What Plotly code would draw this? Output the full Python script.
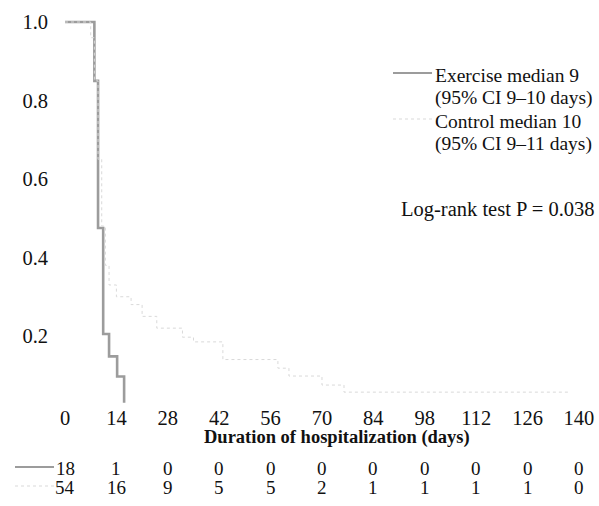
import plotly.graph_objects as go

# ---- data ----
ex_days = [0, 8, 9, 10.4, 12, 14.2, 16.1]
ex_surv = [1.0, 0.85, 0.475, 0.205, 0.148, 0.097, 0.045]
ex_end = 16.1

ct_days = [0, 7, 8, 9, 10, 11, 12, 14, 18, 21, 25, 32, 35, 43, 58, 61, 70, 76]
ct_surv = [1.0, 0.96, 0.85, 0.65, 0.48, 0.38, 0.33, 0.30, 0.28, 0.25, 0.22,
           0.197, 0.185, 0.14, 0.118, 0.098, 0.075, 0.057]
ct_end = 137

tick_days = [0, 14, 28, 42, 56, 70, 84, 98, 112, 126, 140]
y_ticks = [0.2, 0.4, 0.6, 0.8, 1.0]
y_tick_text = ["0.2", "0.4", "0.6", "0.8", "1.0"]
risk_ex = [18, 1, 0, 0, 0, 0, 0, 0, 0, 0, 0]
risk_ct = [54, 16, 9, 5, 5, 2, 1, 1, 1, 1, 0]

legend_lines = ["Exercise median 9", "(95% CI 9–10 days)",
                "Control median 10", "(95% CI 9–11 days)"]
logrank = "Log-rank test P = 0.038"
x_title = "Duration of hospitalization (days)"

FONT = "Liberation Serif, Times New Roman, serif"
TXT = "#111111"
EX_COL = "#9c9c9c"
CT_COL = "#d9d9d9"
FS = 20.5
LFS = 19.5

# paper-coordinate helpers for the fixed 599x506 canvas
L, R, T, B = 49, 5, 3, 103
PW, PH = 599 - L - R, 506 - T - B


def px_x(px):
    return (px - L) / PW


def px_y(py):
    return (506 - B - py) / PH


fig = go.Figure()
ex_x = list(ex_days) + [ex_end]
ex_y = list(ex_surv) + [0.03]
fig.add_trace(go.Scatter(x=ex_x, y=ex_y, mode="lines", line_shape="hv",
                         line=dict(color=EX_COL, width=2.6), name="Exercise",
                         showlegend=False))
ct_x = list(ct_days) + [ct_end]
ct_y = list(ct_surv) + [ct_surv[-1]]
fig.add_trace(go.Scatter(x=ct_x, y=ct_y, mode="lines", line_shape="hv",
                         line=dict(color=CT_COL, width=1.0, dash="dot"), name="Control",
                         showlegend=False))

# legend (text + samples)
for line, py in zip(legend_lines, [75, 98, 121, 144]):
    fig.add_annotation(x=px_x(433), y=px_y(py), xref="paper", yref="paper", text=line,
                       showarrow=False, xanchor="left", yanchor="middle",
                       font=dict(size=LFS, color=TXT))
fig.add_shape(type="line", xref="paper", yref="paper", x0=px_x(393), x1=px_x(432),
              y0=px_y(73), y1=px_y(73), line=dict(color=EX_COL, width=2))
fig.add_shape(type="line", xref="paper", yref="paper", x0=px_x(393), x1=px_x(432),
              y0=px_y(119), y1=px_y(119), line=dict(color=CT_COL, width=1, dash="dot"))

# number-at-risk table
for vals, py in [(risk_ex, 468), (risk_ct, 488)]:
    for d, v in zip(tick_days, vals):
        fig.add_annotation(x=d, y=px_y(py), xref="x", yref="paper", text=str(v),
                           showarrow=False, font=dict(size=19, color=TXT),
                           xanchor="center", yanchor="middle")

# row samples
fig.add_shape(type="line", xref="paper", yref="paper", x0=px_x(15), x1=px_x(54),
              y0=px_y(467), y1=px_y(467), line=dict(color=EX_COL, width=2))
fig.add_shape(type="line", xref="paper", yref="paper", x0=px_x(15), x1=px_x(54),
              y0=px_y(486), y1=px_y(486), line=dict(color=CT_COL, width=1, dash="dot"))

fig.add_annotation(x=px_x(597), y=px_y(209), xref="paper", yref="paper", text=logrank,
                   showarrow=False, xanchor="right", yanchor="middle",
                   font=dict(size=FS, color=TXT))
fig.add_annotation(x=px_x(337), y=px_y(437), xref="paper", yref="paper",
                   text="<b>" + x_title + "</b>",
                   showarrow=False, xanchor="center", yanchor="middle",
                   font=dict(size=18.5, color=TXT))

fig.update_layout(
    width=599, height=506,
    margin=dict(l=L, r=R, t=T, b=B),
    paper_bgcolor="white", plot_bgcolor="white",
    font=dict(family=FONT, size=FS, color=TXT),
    showlegend=False,
    xaxis=dict(range=[-4.36, 144.1], tickvals=tick_days, showgrid=False,
               zeroline=False, showline=False, ticks="", tickfont=dict(size=FS)),
    yaxis=dict(range=[0.0293, 1.0484], tickvals=y_ticks, ticktext=y_tick_text,
               showgrid=False, zeroline=False, showline=False, ticks="",
               tickfont=dict(size=FS)),
)

fig.write_html("out.html")
